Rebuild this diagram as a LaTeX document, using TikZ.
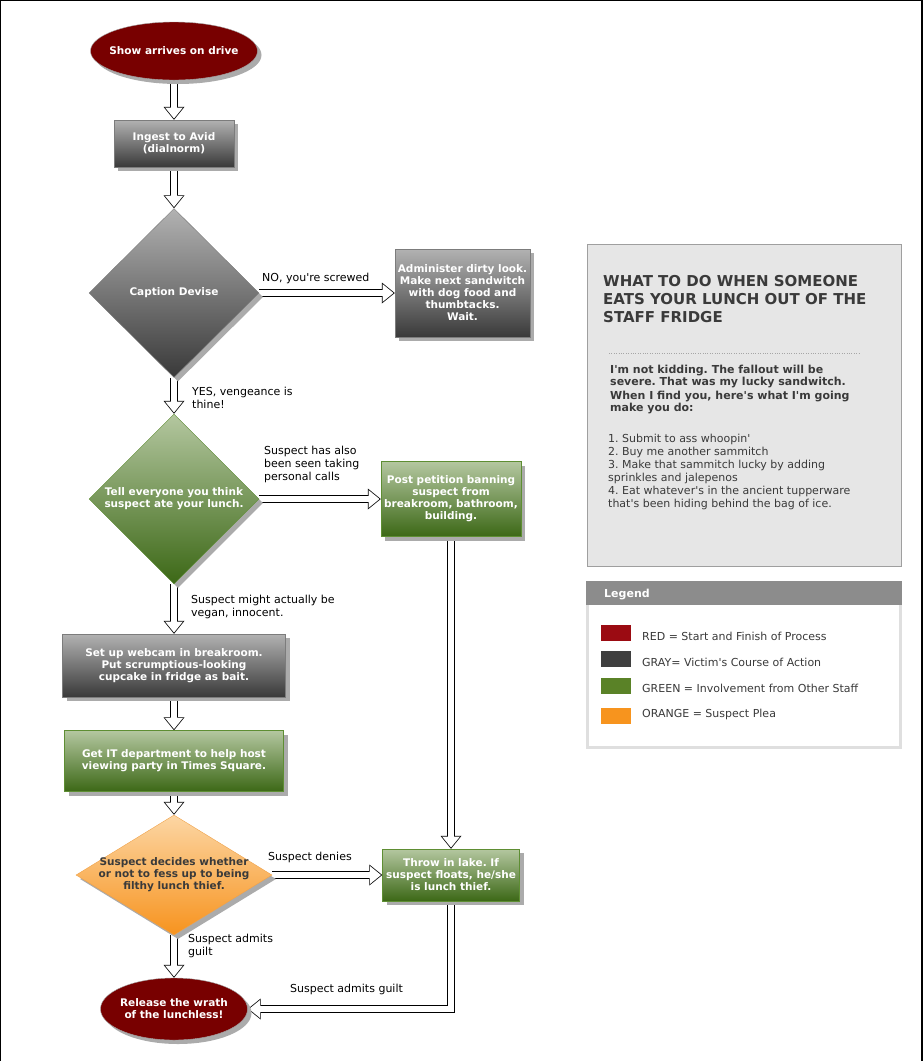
\documentclass[tikz,border=0pt]{standalone}
\usepackage{fontspec}
\setmainfont{DejaVu Sans}[Ligatures=TeXOff]
\usetikzlibrary{shapes.geometric,arrows.meta,shadows,backgrounds}
\frenchspacing

\definecolor{lunchred}{HTML}{780000}
\definecolor{grayTop}{HTML}{B2B2B2}
\definecolor{grayBot}{HTML}{393939}
\definecolor{grayLine}{HTML}{7C7C7C}
\definecolor{greenTop}{HTML}{B4C7A0}
\definecolor{greenBot}{HTML}{3C6816}
\definecolor{greenLine}{HTML}{5E8E33}
\definecolor{orangeTop}{HTML}{FCD6A4}
\definecolor{orangeBot}{HTML}{F7931E}
\definecolor{orangeLine}{HTML}{EFA24A}
\definecolor{shade}{HTML}{ABABAB}
\definecolor{panelgray}{HTML}{E6E6E6}
\definecolor{ink}{HTML}{3A3A3A}
\definecolor{keyred}{HTML}{9B0B12}
\definecolor{keygray}{HTML}{3F3F3F}
\definecolor{keygreen}{HTML}{5A8227}
\definecolor{keyorange}{HTML}{F7941E}

\begin{document}
\begin{tikzpicture}[x=1pt,y=-1pt]
	\tikzstyle{shadowed}=[drop shadow={shadow xshift=4pt,shadow yshift=-4pt,fill=shade,opacity=1}];
	\tikzstyle{graybox}=[rectangle,draw=grayLine,top color=grayTop,bottom color=grayBot,shadowed,inner sep=0pt,text=white,font=\bfseries\fontsize{10.5}{12}\selectfont,align=center];
	\tikzstyle{greenbox}=[graybox,draw=greenLine,top color=greenTop,bottom color=greenBot];
	\tikzstyle{decide}=[diamond,draw=grayLine,top color=grayTop,bottom color=grayBot,shadowed,inner sep=0pt];
	\tikzstyle{greendecide}=[decide,draw=greenLine,top color=greenTop,bottom color=greenBot];
	\tikzstyle{orangedecide}=[decide,draw=orangeLine,top color=orangeTop,bottom color=orangeBot];
	\tikzstyle{terminal}=[ellipse,draw=gray!70,fill=lunchred,shadowed,inner sep=0pt];
	\tikzstyle{nodetext}=[text=white,font=\bfseries\fontsize{10.5}{12}\selectfont,align=center,inner sep=0pt];
	\tikzstyle{lbl}=[font=\fontsize{11}{13}\selectfont,align=left,inner sep=0pt,anchor=west];
	\tikzstyle{flow}=[line width=6.4pt,white,shorten >=1.27pt,-{Triangle[length=10.9pt,width=17.7pt,line width=0pt]},
		preaction={draw=black,line width=8pt,shorten >=0pt,-{Triangle[length=13pt,width=21pt,line width=0pt]}},
		postaction={draw=white,line width=6.4pt,-,shorten >=11pt}];

	\useasboundingbox (0,0) rectangle (922,1061);
	\draw[line width=2pt] (0,1061) -- (0,0) -- (922,0) -- (922,1061);

	% flow chart
	\node[terminal,minimum width=167pt,minimum height=58pt,label={[nodetext]center:Show arrives on drive}] (start) at (174,51) {};
	\node[graybox,minimum width=120pt,minimum height=47pt] (ingest) at (174,143.5) {Ingest to Avid\\(dialnorm)};
	\node[decide,minimum width=170pt,minimum height=169pt,label={[nodetext]center:Caption Devise}] (caption) at (174,293) {};
	\node[graybox,minimum width=135pt,minimum height=88pt] (admin) at (462.5,293) {Administer dirty look.\\Make next sandwitch\\with dog food and\\thumbtacks.\\Wait.};
	\node[greendecide,minimum width=170pt,minimum height=170pt,label={[nodetext]center:{Tell everyone you think\\suspect ate your lunch.}}] (tell) at (174,499) {};
	\node[greenbox,minimum width=140pt,minimum height=75pt] (post) at (451,499) {Post petition banning\\suspect from\\breakroom, bathroom,\\building.};
	\node[graybox,minimum width=223pt,minimum height=63pt] (webcam) at (174,665.5) {Set up webcam in breakroom.\\Put scrumptious-looking\\cupcake in fridge as bait.};
	\node[greenbox,minimum width=219pt,minimum height=61pt] (getit) at (174,761) {Get IT department to help host\\viewing party in Times Square.};
	\node[orangedecide,minimum width=196pt,minimum height=120pt,label={[nodetext,text=ink]center:{Suspect decides whether\\or not to fess up to being\\filthy lunch thief.}}] (suspect) at (174,875) {};
	\node[greenbox,minimum width=137pt,minimum height=52pt] (throw) at (451,875) {Throw in lake. If\\suspect floats, he/she\\is lunch thief.};
	\node[terminal,minimum width=147pt,minimum height=62pt,label={[nodetext]center:{Release the wrath\\of the lunchless!}}] (release) at (174,1009) {};

	\begin{pgfonlayer}{background}
	\draw[flow] (start) -- (ingest);
	\draw[flow] (ingest) -- (caption);
	\draw[flow] (caption) -- (admin);
	\draw[flow] (caption) -- (tell);
	\draw[flow] (tell) -- (post);
	\draw[flow] (tell) -- (webcam);
	\draw[flow] (webcam) -- (getit);
	\draw[flow] (getit) -- (suspect);
	\draw[flow] (suspect) -- (throw);
	\draw[flow] (suspect) -- (release);
	\draw[flow] (post) -- (throw);
	\draw[flow] (throw) |- (release);
	\end{pgfonlayer}

	\node[lbl] (nolbl) at (262,278) {NO, you're screwed};
	\node[lbl] (yeslbl) at (192,398) {YES, vengeance is\\thine!};
	\node[lbl] (callslbl) at (264,464) {Suspect has also\\been seen taking\\personal calls};
	\node[lbl] (veganlbl) at (191,607) {Suspect might actually be\\vegan, innocent.};
	\node[lbl] (denylbl) at (268,857) {Suspect denies};
	\node[lbl] (admitlbl) at (188,946) {Suspect admits\\guilt};
	\node[lbl] (guiltlbl) at (290,989) {Suspect admits guilt};

	% note panel
	\draw[fill=panelgray,draw=gray!75] (587,244) rectangle (901,566);
	\node[lbl,text=ink,font=\bfseries\fontsize{15}{18}\selectfont] (title) at (603,299.5) {WHAT TO DO WHEN SOMEONE\\EATS YOUR LUNCH OUT OF THE\\STAFF FRIDGE};
	\draw[gray!70,dotted] (609,353) -- (860,353);
	\node[lbl,text=ink,font=\bfseries\fontsize{11}{13}\selectfont] (warning) at (610,389.5) {I'm not kidding. The fallout will be\\severe. That was my lucky sandwitch.\\When I find you, here's what I'm going\\make you do:};
	\node[lbl,text=ink] (demands) at (608,471.5) {1. Submit to ass whoopin'\\2. Buy me another sammitch\\3. Make that sammitch lucky by adding\\sprinkles and jalepenos\\4. Eat whatever's in the ancient tupperware\\that's been hiding behind the bag of ice.};

	% legend
	\fill[gray!25] (586,581) rectangle (902,749);
	\fill[white] (589,605) rectangle (899,746);
	\fill[black!45] (586,581) rectangle (902,605);
	\node[lbl,text=white,font=\bfseries\fontsize{11}{13}\selectfont] (legendhead) at (604,594) {Legend};
	\fill[keyred]    (601,625) rectangle (631,641);
	\fill[keygray]   (601,651) rectangle (631,667);
	\fill[keygreen]  (601,678) rectangle (631,694);
	\fill[keyorange] (601,708) rectangle (631,724);
	\node[lbl,text=ink] (keyredtext)    at (642,636) {RED = Start and Finish of Process};
	\node[lbl,text=ink] (keygraytext)   at (642,662) {GRAY= Victim's Course of Action};
	\node[lbl,text=ink] (keygreentext)  at (642,688) {GREEN = Involvement from Other Staff};
	\node[lbl,text=ink] (keyorangetext) at (642,714) {ORANGE = Suspect Plea};
\end{tikzpicture}
\end{document}
